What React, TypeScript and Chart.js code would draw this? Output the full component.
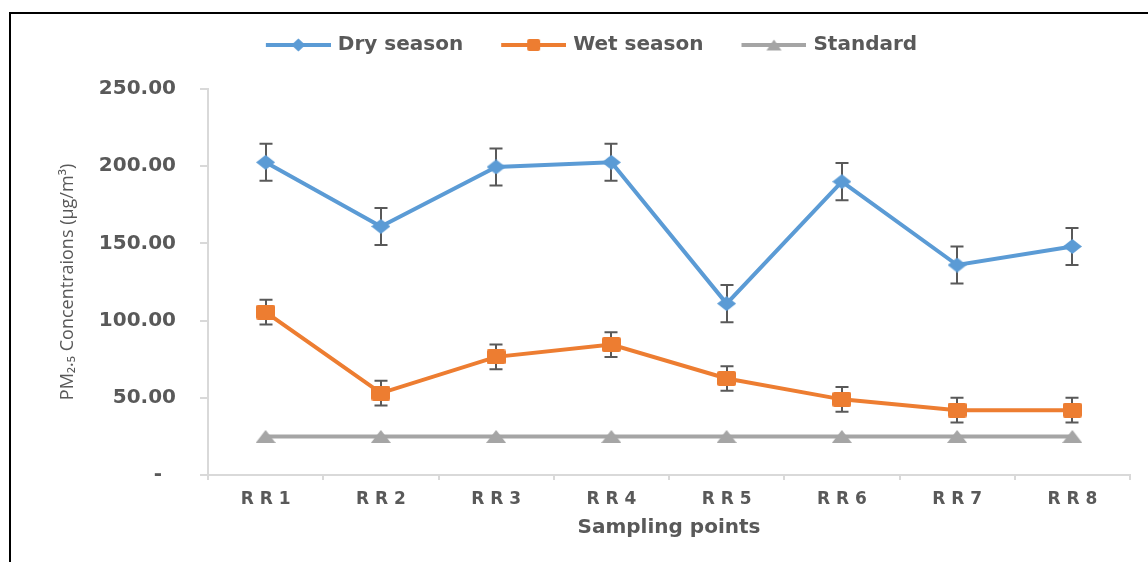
import React, { useEffect, useRef } from 'react';
import { Chart, registerables } from 'chart.js';

Chart.register(...registerables);

const categories = ['R R 1', 'R R 2', 'R R 3', 'R R 4', 'R R 5', 'R R 6', 'R R 7', 'R R 8'];
const drySeason = [202.5, 161, 199.5, 202.5, 111, 190, 136, 148];
const dryError = [12, 12, 12, 12, 12, 12, 12, 12];
const wetSeason = [105.5, 53, 76.5, 84.5, 62.5, 49, 42, 42];
const wetError = [8, 8, 8, 8, 8, 8, 8, 8];
const standard = [25, 25, 25, 25, 25, 25, 25, 25];
const seriesNames = ['Dry season', 'Wet season', 'Standard'];
const seriesColors = ['#5B9BD5', '#ED7D31', '#A5A5A5'];
const yMin = 0;
const yMax = 250;
const yStep = 50;
const yTitle = 'PM\u2082.\u2085 Concentraions (\u00b5g/m\u00b3)';
const xTitle = 'Sampling points';

type Shape = 'diamond' | 'square' | 'triangle';

function drawShape(ctx: CanvasRenderingContext2D, shape: Shape, cx: number, cy: number, w: number, h: number, color: string) {
  ctx.fillStyle = color;
  ctx.beginPath();
  if (shape === 'diamond') {
    ctx.moveTo(cx, cy - h / 2);
    ctx.lineTo(cx + w / 2, cy);
    ctx.lineTo(cx, cy + h / 2);
    ctx.lineTo(cx - w / 2, cy);
    ctx.closePath();
  } else if (shape === 'square') {
    const r = 2;
    const x0 = cx - w / 2, y0 = cy - h / 2;
    ctx.moveTo(x0 + r, y0);
    ctx.lineTo(x0 + w - r, y0);
    ctx.quadraticCurveTo(x0 + w, y0, x0 + w, y0 + r);
    ctx.lineTo(x0 + w, y0 + h - r);
    ctx.quadraticCurveTo(x0 + w, y0 + h, x0 + w - r, y0 + h);
    ctx.lineTo(x0 + r, y0 + h);
    ctx.quadraticCurveTo(x0, y0 + h, x0, y0 + h - r);
    ctx.lineTo(x0, y0 + r);
    ctx.quadraticCurveTo(x0, y0, x0 + r, y0);
    ctx.closePath();
  } else {
    ctx.moveTo(cx, cy - h / 2);
    ctx.lineTo(cx + w / 2, cy + h / 2);
    ctx.lineTo(cx - w / 2, cy + h / 2);
    ctx.closePath();
  }
  ctx.fill();
}

function markerCanvas(shape: Shape, w: number, h: number, color: string) {
  const c = document.createElement('canvas');
  c.width = w;
  c.height = h;
  const ctx = c.getContext('2d')!;
  drawShape(ctx, shape, w / 2, h / 2, w, h, color);
  return c;
}

function legendCanvas(shape: Shape, w: number, h: number, color: string) {
  const c = document.createElement('canvas');
  c.width = 68;
  c.height = 16;
  const ctx = c.getContext('2d')!;
  ctx.strokeStyle = color;
  ctx.lineWidth = 4;
  ctx.beginPath();
  ctx.moveTo(3, 8);
  ctx.lineTo(68, 8);
  ctx.stroke();
  drawShape(ctx, shape, 35.5, 8, w, h, color);
  return c;
}

const framePlugin = {
  id: 'frame',
  beforeDraw(chart: any) {
    const ctx = chart.ctx;
    ctx.save();
    ctx.fillStyle = '#000000';
    ctx.fillRect(9, 12, 2, chart.height - 12);
    ctx.fillRect(9, 12, chart.width - 9, 2);
    ctx.restore();
  },
};

const errorBarPlugin = {
  id: 'errorBars',
  beforeDatasetsDraw(chart: any, _args: any, opts: any) {
    const { ctx, scales } = chart;
    const xs = scales.x;
    const ys = scales.y;
    const errs: (number[] | null)[] = opts.errors || [];
    ctx.save();
    ctx.strokeStyle = '#595959';
    ctx.lineWidth = 2;
    chart.data.datasets.forEach((ds: any, di: number) => {
      const e = errs[di];
      if (!e) return;
      ds.data.forEach((v: number, i: number) => {
        const px = Math.round(xs.getPixelForValue(i));
        const top = ys.getPixelForValue(v + e[i]);
        const bot = ys.getPixelForValue(v - e[i]);
        ctx.beginPath();
        ctx.moveTo(px, top);
        ctx.lineTo(px, bot);
        ctx.moveTo(px - 6.5, top);
        ctx.lineTo(px + 6.5, top);
        ctx.moveTo(px - 6.5, bot);
        ctx.lineTo(px + 6.5, bot);
        ctx.stroke();
      });
    });
    ctx.restore();
  },
};

export default function App() {
  const ref = useRef<HTMLCanvasElement>(null);

  useEffect(() => {
    if (!ref.current) return;
    const shapes: Shape[] = ['diamond', 'square', 'triangle'];
    const markerSizes = [[19, 15], [19, 15], [20, 13]];
    const legendSizes = [[14, 13], [13, 12], [15, 11]];
    const markers = shapes.map((s, i) => markerCanvas(s, markerSizes[i][0], markerSizes[i][1], seriesColors[i]));
    const legendIcons = shapes.map((s, i) => legendCanvas(s, legendSizes[i][0], legendSizes[i][1], seriesColors[i]));
    const values = [drySeason, wetSeason, standard];

    const tickFont = { family: 'DejaVu Sans', size: 20, weight: 'bold' as const };

    const chart = new Chart(ref.current, {
      type: 'line',
      data: {
        labels: categories,
        datasets: values.map((d, i) => ({
          label: seriesNames[i],
          data: d,
          borderColor: seriesColors[i],
          backgroundColor: seriesColors[i],
          borderWidth: 4,
          pointStyle: markers[i] as any,
          pointRadius: 8,
          tension: 0,
          fill: false,
        })),
      },
      options: {
        animation: false,
        responsive: false,
        events: [],
        layout: { padding: { left: 53, right: 18, top: -3, bottom: 0 } },
        plugins: {
          tooltip: { enabled: false },
          legend: {
            display: true,
            position: 'top',
            weight: 1000,
            labels: {
              usePointStyle: true,
              pointStyleWidth: 62,
              boxHeight: 16,
              padding: 38,
              color: '#595959',
              font: { family: 'DejaVu Sans', size: 20, weight: 'bold' },
              generateLabels: (ch: any) => {
                const items = (Chart.defaults.plugins.legend.labels as any).generateLabels(ch);
                return items.map((it: any, i: number) => ({ ...it, pointStyle: legendIcons[i] }));
              },
            },
          } as any,
          title: {
            display: true,
            text: '',
            weight: 500,
            font: { size: 10, lineHeight: 1 },
            padding: { top: 14, bottom: 0 },
          } as any,
          errorBars: { errors: [dryError, wetError, null] },
        } as any,
        scales: {
          x: {
            type: 'category',
            offset: true,
            border: { display: true, color: '#D9D9D9', width: 2 },
            grid: {
              display: true,
              drawOnChartArea: false,
              drawTicks: true,
              tickLength: 5,
              offset: true,
              color: '#D9D9D9',
              lineWidth: 2,
            },
            ticks: {
              color: '#595959',
              padding: 9,
              font: { family: 'DejaVu Sans', size: 17, weight: 'bold' },
              maxRotation: 0,
            },
            title: {
              display: true,
              text: xTitle,
              color: '#595959',
              font: { family: 'DejaVu Sans', size: 20, weight: 'bold' },
              padding: { top: 0, bottom: 22 },
            },
            afterFit: (s: any) => {
              s.height = 87;
            },
          },
          y: {
            type: 'linear',
            min: yMin,
            max: yMax,
            border: { display: true, color: '#D9D9D9', width: 2 },
            grid: {
              display: true,
              drawOnChartArea: false,
              drawTicks: true,
              tickLength: 8,
              color: '#D9D9D9',
              lineWidth: 2,
            },
            ticks: {
              stepSize: yStep,
              color: '#595959',
              padding: 24,
              font: tickFont,
              callback: (v: any) => (Number(v) === 0 ? '-  ' : Number(v).toFixed(2)),
            },
            title: {
              display: true,
              text: yTitle,
              color: '#595959',
              font: { family: 'Open Sans', size: 18, weight: 'normal' },
              padding: { top: 4, bottom: 0 },
            },
            afterFit: (s: any) => {
              s.width = 155;
            },
          },
        },
      } as any,
      plugins: [framePlugin, errorBarPlugin],
    });

    return () => chart.destroy();
  }, []);

  return (
    <div style={{ position: 'fixed', left: 0, top: 0, width: 1148, height: 562, background: '#ffffff' }}>
      <canvas ref={ref} width={1148} height={562} style={{ display: 'block' }} />
    </div>
  );
}
